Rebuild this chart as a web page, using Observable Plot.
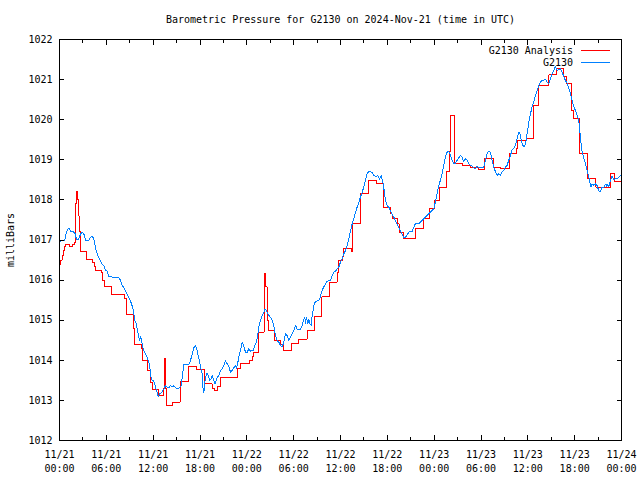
<!DOCTYPE html>
<html><head><meta charset="utf-8">
<script src="https://cdn.jsdelivr.net/npm/d3@7"></script>
<script src="https://cdn.jsdelivr.net/npm/@observablehq/plot@0.6"></script>
<style>body{margin:0;background:#fff} svg{display:block}</style>
</head><body><div id="chart"></div>
<script>
const title = "Barometric Pressure for G2130 on 2024-Nov-21 (time in UTC)";
const yLabel = "milliBars";
const seriesNames = ["G2130 Analysis", "G2130"];
const seriesColors = ["#ff0000", "#0080ff"];
const startUTC = Date.UTC(2024, 10, 21, 0, 0);

// G2130 Analysis (hours after 11/21 00:00 UTC, mbar)
const analysisHours = [0.0,0.15,0.35,0.5,0.65,0.77,1.28,1.7,1.95,2.05,2.15,2.3,2.4,2.5,2.69,3.5,4.27,4.45,4.61,5.4,5.5,5.72,6.66,8.37,8.54,9.48,9.61,10.51,10.68,11.3,11.6,11.87,12.73,13.32,13.45,13.6,13.71,14.52,15.5,16.57,17.55,18.62,19.56,19.9,20.2,20.63,22.76,23.19,24.38,24.68,24.9,25.45,26.2,26.45,26.6,26.8,27.5,28.3,28.65,29.68,30.66,31.73,32.65,33.6,34.6,35.57,35.75,36.2,36.4,37.45,37.55,38.55,39.55,40.65,41.5,42.4,42.6,43.3,43.5,44.1,45.6,46.6,47.4,48.1,48.7,49.6,50.0,50.15,50.55,51.6,52.6,53.7,54.5,55.6,56.5,57.6,58.5,58.7,59.8,60.7,61.4,62.7,63.7,64.6,65.0,65.6,65.8,66.6,67.6,68.7,70.6,71.1,72.0];
const analysisValues = [1016.40,1016.50,1016.62,1016.75,1016.85,1016.88,1016.84,1016.90,1016.93,1017.9,1018.2,1018.0,1017.6,1017.2,1016.71,1016.51,1016.44,1016.35,1016.25,1016.2,1016.0,1015.83,1015.65,1015.55,1015.13,1014.8,1014.4,1014.3,1014.0,1013.75,1013.45,1013.28,1013.12,1013.3,1014.04,1013.3,1012.87,1012.96,1013.46,1013.85,1013.76,1013.41,1013.3,1013.25,1013.35,1013.58,1013.79,1013.91,1014.0,1014.1,1014.2,1014.7,1016.16,1015.83,1015.0,1014.74,1014.49,1014.4,1014.24,1014.42,1014.53,1014.74,1015.1,1015.58,1015.95,1016.2,1016.49,1016.6,1016.78,1016.72,1017.4,1018.15,1018.48,1018.4,1017.82,1017.65,1017.53,1017.4,1017.19,1017.03,1017.28,1017.53,1017.78,1017.99,1018.3,1018.7,1019.2,1020.11,1018.9,1018.86,1018.8,1018.75,1019.03,1018.82,1018.78,1019.15,1019.28,1019.48,1019.53,1020.35,1020.85,1021.12,1021.27,1021.07,1020.9,1020.23,1020.03,1019.15,1018.53,1018.32,1018.65,1018.45,1018.42];

// G2130 station observations
const stationHours = [0.0,0.09,0.17,0.68,0.77,0.98,1.2,1.41,1.96,2.05,2.22,2.48,2.69,2.9,3.12,3.33,3.76,3.97,4.18,4.4,4.53,4.7,4.87,5.04,5.25,5.47,5.68,5.89,6.11,6.32,6.96,7.6,7.81,8.03,8.24,8.45,8.67,8.88,9.09,9.22,9.39,9.52,9.65,9.86,9.99,10.16,10.25,10.38,10.5,10.59,10.72,10.89,11.1,11.23,11.44,11.57,11.66,11.79,12.04,12.21,12.38,12.51,12.64,12.81,13.07,13.36,13.58,13.79,14.01,14.22,14.43,14.65,14.86,15.29,15.59,15.72,15.93,16.57,16.78,17.0,17.21,17.42,17.55,17.72,17.94,18.06,18.28,18.36,18.49,18.58,18.7,18.92,19.05,19.26,19.43,19.56,19.77,19.9,20.07,20.2,20.41,20.63,20.84,21.05,21.27,21.48,21.69,21.91,22.12,22.33,22.55,22.68,22.85,22.97,23.19,23.4,23.61,23.83,24.04,24.26,24.47,24.81,25.02,25.24,25.41,25.58,25.75,25.96,26.18,26.3,26.52,26.82,27.03,27.24,27.46,27.54,27.67,27.88,28.1,28.31,28.52,28.74,28.95,29.16,29.38,29.59,29.81,30.02,30.23,30.45,30.87,31.09,31.3,31.43,31.51,31.64,31.81,31.94,32.07,32.24,32.37,32.58,32.79,33.22,33.43,33.56,33.73,33.95,34.2,34.5,34.72,34.93,35.14,35.36,35.57,35.78,36.0,36.21,36.42,36.64,36.85,37.06,37.28,37.49,37.7,37.92,38.13,38.35,38.56,38.77,38.99,39.2,39.41,39.63,40.05,40.27,40.61,40.78,40.99,41.21,41.46,41.63,41.76,41.97,42.19,42.4,42.61,42.83,43.04,43.26,43.47,43.68,43.9,44.11,44.32,44.53,44.75,45.17,45.39,45.6,46.03,46.24,46.46,46.88,47.1,47.31,47.52,47.74,47.95,48.16,48.38,48.59,48.8,49.02,49.23,49.44,49.66,49.87,50.08,50.3,50.51,50.73,50.94,51.15,51.37,51.58,51.79,52.01,52.22,52.43,52.65,52.86,53.07,53.29,53.5,53.71,53.93,54.14,54.35,54.57,54.78,54.99,55.21,55.34,55.42,55.64,55.85,56.06,56.28,56.49,56.7,56.92,57.13,57.34,57.56,57.77,57.98,58.2,58.41,58.62,58.84,58.97,59.05,59.27,59.49,59.7,59.91,60.13,60.34,60.55,60.77,60.98,61.19,61.41,61.62,61.84,62.26,62.48,62.69,62.9,63.12,63.33,63.54,63.76,63.97,64.18,64.4,64.61,64.82,65.04,65.25,65.46,65.68,65.89,66.1,66.32,66.53,66.66,66.75,66.87,66.96,67.17,67.39,67.6,67.81,67.94,68.11,68.24,68.45,68.67,68.88,69.09,69.31,69.52,69.73,69.95,70.08,70.16,70.38,70.59,70.8,71.02,71.23,71.44,71.66,71.87];
const stationValues = [1016.86,1016.98,1017.0,1017.0,1017.1,1017.23,1017.3,1017.22,1017.19,1017.1,1017.0,1017.03,1017.15,1017.19,1017.15,1017.0,1017.0,1017.07,1017.09,1017.03,1016.9,1016.73,1016.63,1016.55,1016.48,1016.4,1016.36,1016.25,1016.22,1016.09,1016.07,1016.07,1015.99,1015.86,1015.82,1015.72,1015.65,1015.57,1015.49,1015.4,1015.32,1015.15,1014.99,1014.9,1014.74,1014.57,1014.49,1014.59,1014.53,1014.41,1014.28,1014.2,1014.12,1014.07,1013.95,1013.83,1013.66,1013.51,1013.49,1013.41,1013.28,1013.2,1013.1,1013.16,1013.2,1013.28,1013.37,1013.33,1013.31,1013.37,1013.33,1013.37,1013.31,1013.3,1013.37,1013.58,1013.89,1013.89,1013.99,1014.16,1014.31,1014.37,1014.31,1014.16,1013.99,1013.83,1013.66,1013.33,1013.2,1013.37,1013.58,1013.68,1013.62,1013.5,1013.54,1013.62,1013.5,1013.41,1013.5,1013.58,1013.62,1013.75,1013.79,1013.87,1013.99,1013.91,1013.85,1013.7,1013.75,1013.81,1013.87,1013.79,1013.95,1014.08,1014.25,1014.45,1014.35,1014.2,1014.2,1014.29,1014.23,1014.25,1014.37,1014.45,1014.66,1014.87,1014.99,1015.12,1015.2,1015.28,1015.24,1015.12,1015.07,1015.0,1014.87,1014.74,1014.62,1014.49,1014.45,1014.37,1014.33,1014.45,1014.66,1014.62,1014.49,1014.57,1014.66,1014.74,1014.87,1014.78,1014.78,1014.87,1015.03,1015.07,1014.91,1015.07,1014.91,1015.03,1014.91,1014.87,1015.11,1015.36,1015.47,1015.49,1015.57,1015.7,1015.78,1015.86,1015.95,1015.99,1016.0,1016.11,1016.2,1016.22,1016.28,1016.32,1016.45,1016.53,1016.65,1016.74,1016.86,1017.03,1017.23,1017.4,1017.53,1017.69,1017.82,1017.94,1018.07,1018.19,1018.32,1018.48,1018.65,1018.71,1018.69,1018.61,1018.58,1018.61,1018.52,1018.61,1018.4,1018.19,1017.98,1017.86,1017.82,1017.73,1017.65,1017.57,1017.48,1017.4,1017.32,1017.23,1017.15,1017.05,1017.07,1017.12,1017.2,1017.2,1017.32,1017.41,1017.41,1017.45,1017.49,1017.57,1017.61,1017.66,1017.7,1017.74,1017.78,1017.95,1018.16,1018.36,1018.49,1018.65,1018.86,1019.07,1019.19,1019.22,1019.11,1018.99,1018.9,1018.92,1018.99,1019.05,1019.11,1019.07,1018.95,1019.03,1018.99,1018.9,1018.86,1018.84,1018.8,1018.78,1018.84,1018.8,1018.8,1018.82,1018.82,1018.99,1019.15,1019.22,1019.19,1019.07,1018.99,1018.82,1018.7,1018.61,1018.65,1018.61,1018.7,1018.74,1018.82,1018.86,1018.99,1019.11,1019.24,1019.28,1019.36,1019.53,1019.69,1019.69,1019.57,1019.4,1019.32,1019.4,1019.65,1019.94,1020.15,1020.32,1020.44,1020.61,1020.73,1020.86,1020.94,1020.98,1021.0,1020.94,1020.9,1021.02,1021.15,1021.23,1021.33,1021.23,1021.25,1021.27,1021.19,1021.07,1020.98,1020.9,1020.77,1020.65,1020.48,1020.32,1020.23,1020.11,1019.98,1019.73,1019.53,1019.32,1019.2,1019.03,1018.9,1018.74,1018.57,1018.45,1018.32,1018.4,1018.36,1018.4,1018.36,1018.22,1018.22,1018.32,1018.32,1018.39,1018.34,1018.4,1018.32,1018.49,1018.59,1018.5,1018.53,1018.53,1018.57,1018.61];

const yTicks = [1012,1013,1014,1015,1016,1017,1018,1019,1020,1021,1022];
const xTickHours = [0,6,12,18,24,30,36,42,48,54,60,66,72];
const xMinorHours = [3,9,15,21,27,33,39,45,51,57,63,69];
const xTickLabels = ["11/21\n00:00","11/21\n06:00","11/21\n12:00","11/21\n18:00","11/22\n00:00","11/22\n06:00","11/22\n12:00","11/22\n18:00","11/23\n00:00","11/23\n06:00","11/23\n12:00","11/23\n18:00","11/24\n00:00"];

const toDate = h => new Date(startUTC + h * 3600e3);
const analysis = analysisHours.map((h, i) => ({t: toDate(h), v: analysisValues[i]}));
const station = stationHours.map((h, i) => ({t: toDate(h), v: stationValues[i]}));
const majorDates = xTickHours.map(toDate);
const minorDates = xMinorHours.map(toDate);
const labelFor = d => xTickLabels[xTickHours.indexOf(Math.round((+d - startUTC) / 3600e3))];
const blank = () => "";

const legend = (index, scales, values, dims) => {
  const g = d3.create("svg:g");
  const xr = dims.width - dims.marginRight;
  seriesNames.forEach((name, i) => {
    const y = dims.marginTop + 11.5 + i * 12;
    g.append("text").attr("x", xr - 48).attr("y", y).attr("dy", "0.35em")
      .attr("text-anchor", "end").attr("fill", "black").text(name);
    g.append("line").attr("x1", xr - 40).attr("x2", xr - 11).attr("y1", y).attr("y2", y)
      .attr("stroke", seriesColors[i]).attr("stroke-width", 1);
  });
  return g.node();
};

const chart = Plot.plot({
  width: 640, height: 480,
  marginLeft: 59, marginRight: 19, marginTop: 39, marginBottom: 40,
  style: {fontFamily: "'DejaVu Sans Mono', monospace", fontSize: "10px", background: "white", color: "black"},
  x: {type: "utc", domain: [toDate(0), toDate(72)]},
  y: {domain: [1012, 1022]},
  marks: [
    Plot.line(analysis, {x: "t", y: "v", stroke: seriesColors[0], strokeWidth: 1, curve: "step-after"}),
    Plot.line(station, {x: "t", y: "v", stroke: seriesColors[1], strokeWidth: 1}),
    Plot.frame({stroke: "black", strokeWidth: 1}),
    Plot.axisY(yTicks, {anchor: "left", tickSize: 0, tickPadding: 7, tickFormat: d => String(d), label: null}),
    Plot.axisY(yTicks, {anchor: "left", tickSize: 5, dx: 5, tickFormat: blank, label: null}),
    Plot.axisY(yTicks, {anchor: "right", tickSize: 5, dx: -5, tickFormat: blank, label: null}),
    Plot.axisX(majorDates, {anchor: "bottom", tickSize: 0, tickPadding: 8, tickFormat: labelFor, lineHeight: 1.4, label: null}),
    Plot.axisX(majorDates, {anchor: "bottom", tickSize: 5, dy: -5, tickFormat: blank, label: null}),
    Plot.axisX(minorDates, {anchor: "bottom", tickSize: 3, dy: -3, tickFormat: blank, label: null}),
    Plot.axisX(majorDates, {anchor: "top", tickSize: 5, dy: 5, tickFormat: blank, label: null}),
    Plot.axisX(minorDates, {anchor: "top", tickSize: 3, dy: 3, tickFormat: blank, label: null}),
    Plot.text([title], {text: d => d, frameAnchor: "top", lineAnchor: "middle", dy: -20, fill: "black"}),
    Plot.text([yLabel], {text: d => d, frameAnchor: "left", textAnchor: "middle", lineAnchor: "middle", rotate: -90, dx: -49, fill: "black"}),
    legend
  ]
});
chart.style.shapeRendering = "crispEdges";
document.getElementById("chart").append(chart);
</script>
</body></html>
